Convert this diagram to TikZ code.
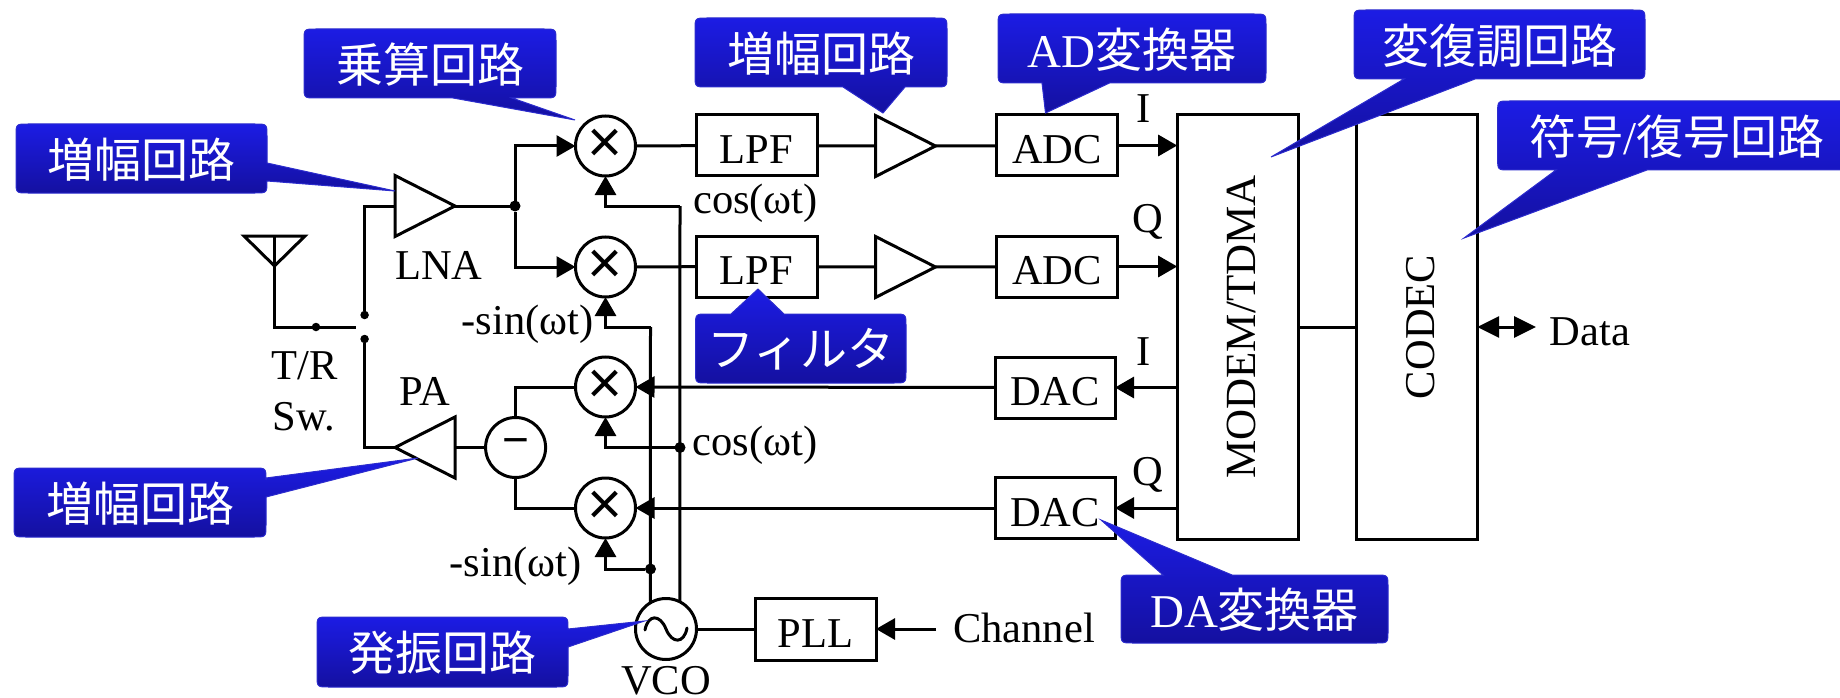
\documentclass[tikz,border=0pt]{standalone}
\usepackage{fontspec}
\setmainfont{Liberation Serif}
\newfontfamily\cjk{Noto Sans CJK JP}
\newfontfamily\symfont{Liberation Sans}
\usetikzlibrary{arrows.meta,shapes.geometric}
\definecolor{calltop}{RGB}{28,28,228}
\definecolor{callbot}{RGB}{20,16,160}
\definecolor{callline}{RGB}{44,44,205}
\newcommand\sz[1]{\fontsize{#1}{#1}\selectfont}
\newcommand\callout[9]{%
  \path[calloutbody] (#1+12,#2) #5 -- (#3-12,#2) .. controls (#3,#2) .. (#3,#2+12) #6
    -- (#3,#4-12) .. controls (#3,#4) .. (#3-12,#4) #7
    -- (#1+12,#4) .. controls (#1,#4) .. (#1,#4-12)
    -- (#1,#2+12) .. controls (#1,#2) .. (#1+12,#2) -- cycle;
  \node[calltext] (#8) at ({(#1+#3)/2},{(#2+#4)/2+1}) {#9};}
\begin{document}
\begin{tikzpicture}[x=1pt,y=-1pt,
  line width=3pt, line join=miter,
  block/.style={draw,rectangle,inner sep=0pt,outer sep=0pt,minimum width=121pt,minimum height=61pt,
    text height=36pt,text depth=0pt,font=\sz{42.5}},
  mixer/.style={draw,circle,inner sep=0pt,outer sep=0pt,minimum size=60pt,font=\symfont\sz{60}},
  amp/.style={draw,isosceles triangle,isosceles triangle stretches,inner sep=0pt,outer sep=0pt,
    minimum width=61pt,minimum height=60pt},
  jdot/.style={circle,fill=black,inner sep=0pt,outer sep=0pt,minimum size=11pt},
  swdot/.style={circle,fill=black,inner sep=0pt,outer sep=0pt,minimum size=8.5pt},
  lab/.style={anchor=base,inner sep=0pt,font=\sz{42.5}},
  arr/.style={-{Triangle[length=19pt,width=21pt]}},
  calloutbody/.style={top color=calltop,bottom color=callbot,draw=callline,line width=1pt},
  calltext/.style={text=white,inner sep=0pt,font=\cjk\sz{47}}
]
\useasboundingbox (0,0) rectangle (1840,698);

% antenna and switch
\coordinate (antL) at (244,236);
\coordinate (antR) at (305,236);
\coordinate (antA) at (274.5,266);
\coordinate (antB) at (274.5,327);
\coordinate (swfree) at (356,327);
\draw (antL) -- (antR) -- (antA) -- cycle;
\draw (274.5,236) -- (antA);
\node[swdot] (swj) at (316,327) {};
\draw (antA) -- (antB) -- (swfree);
\node[swdot] (sw1) at (364.6,315) {};
\node[swdot] (sw2) at (364.6,339) {};

% amplifiers
\node[amp,anchor=apex] (lna) at (455,206) {};
\node[amp,shape border rotate=180,anchor=apex] (pa) at (395,447.5) {};
\node[amp,anchor=apex] (a1) at (935.5,146) {};
\node[amp,anchor=apex] (a2) at (935.5,267) {};

% mixers
\node[mixer] (m1) at (605.5,146) {×};
\node[mixer] (m2) at (605.5,267) {×};
\node[mixer] (m3) at (605.5,387) {×};
\node[mixer] (m4) at (605.5,508) {×};
\node[mixer,font=\symfont\sz{46}] (sub) at (515.6,447.5) {−};

% blocks
\node[block] (lpf1) at (756.5,145.5) {LPF};
\node[block] (lpf2) at (756.5,266.5) {LPF};
\node[block] (adc1) at (1057,145.5) {ADC};
\node[block] (adc2) at (1057,266.5) {ADC};
\node[block,minimum width=120pt] (dac1) at (1055,387.5) {DAC};
\node[block,minimum width=120pt] (dac2) at (1055,508) {DAC};
\node[block,minimum width=121pt,minimum height=62pt] (pll) at (815.5,629) {PLL};
\node[block,rotate=90,minimum width=424pt,minimum height=121pt,font=\sz{43},text height=35pt] (modem) at (1237.7,327) {MODEM/TDMA};
\node[block,rotate=90,minimum width=424pt,minimum height=121pt,font=\sz{42.5},text height=35pt] (codec) at (1416.7,327) {CODEC};

% VCO
\node[draw,circle,inner sep=0pt,outer sep=0pt,minimum size=61pt] (vco) at (666,629) {};
\draw[line cap=round] (645,630) .. controls (648,614) and (660,614) .. (666,629)
   .. controls (672,644) and (684,644) .. (687,628);

% RX path
\draw (sw1) |- (lna.lower side);
\node[jdot] (rxj) at (515,206) {};
\draw (lna.apex) -- (rxj);
\draw[arr] (rxj) |- (m1.west);
\draw[arr] (rxj) |- (m2.west);
\draw (m1) -- (lpf1);
\draw (m2) -- (lpf2);
\draw (lpf1) -- (a1.lower side);
\draw (lpf2) -- (a2.lower side);
\draw (a1.apex) -- (adc1);
\draw (a2.apex) -- (adc2);
\draw[arr] (adc1.east) -- (adc1.east -| modem.north);
\draw[arr] (adc2.east) -- (adc2.east -| modem.north);

% TX path
\draw (sw2) |- (pa.apex);
\draw (pa.lower side) -- (sub);
\draw (sub.north) |- (m3.west);
\draw (sub.south) |- (m4.west);
\draw[arr] (dac1) -- (m3);
\draw[arr] (dac2) -- (m4);
\draw[arr] (dac1.east -| modem.north) -- (dac1.east);
\draw[arr] (dac2.east -| modem.north) -- (dac2.east);

% LO distribution
\coordinate (lorT) at (680,206);
\coordinate (lolT) at (650.5,327);
\node[jdot] (jcos) at (680,447.5) {};
\node[jdot] (jsin) at (650.5,569) {};
\draw[arr] (lorT) -| (m1.south);
\draw[arr] (lolT) -| (m2.south);
\draw[arr] (jcos) -| (m3.south);
\draw[arr] (jsin) -| (m4.south);
\draw (lorT) -- (vco.63);
\draw (lolT) -- (vco.121);

% PLL
\draw (vco) -- (pll);
\coordinate (chfree) at (936,629);
\draw[arr] (chfree) -- (pll);

% back end
\draw (modem.south) -- (codec.north);
\coordinate (datafree) at (1536,327);
\draw[{Triangle[length=22pt,width=21pt]}-{Triangle[length=22pt,width=21pt]}] (codec.south) -- (datafree);

% labels
\node[lab] (tlna) at (439,279) {LNA};
\node[lab] (tpa) at (425,405) {PA};
\node[lab] (ttr) at (305,379) {T/R};
\node[lab] (tsw) at (304,430) {Sw.};
\node[lab] (tcos1) at (755.5,213) {cos(ωt)};
\node[lab] (tcos2) at (755,455) {cos(ωt)};
\node[lab] (tsin1) at (527.5,334) {-sin(ωt)};
\node[lab] (tsin2) at (515.5,576) {-sin(ωt)};
\node[lab] (ti1) at (1144,123) {I};
\node[lab] (tq1) at (1148,232) {Q};
\node[lab] (ti2) at (1144,365) {I};
\node[lab] (tq2) at (1148,485) {Q};
\node[lab] (tvco) at (666,694) {VCO};
\node[lab] (tch) at (1024,642) {Channel};
\node[lab] (tdata) at (1590,345) {Data};

% callouts
\callout{304}{29}{556}{98}{}{}{-- (512,98) -- (575,120) -- (453,98)}{c1}{乗算回路}
\callout{16}{124}{267}{193}{}{-- (267,163) -- (395,191) -- (267,181)}{}{c2}{増幅回路}
\callout{14}{468}{266}{537}{}{-- (266,478) -- (418,458) -- (266,497)}{}{c3}{増幅回路}
\callout{317}{617}{568}{687}{}{-- (568,629) -- (644.5,621) -- (568,647)}{}{c4}{発振回路}
\callout{695}{18}{947}{87}{}{}{-- (905,87) -- (883,113) -- (843,87)}{c5}{増幅回路}
\callout{998}{14}{1266}{83}{}{}{-- (1109.5,83) -- (1045.5,113) -- (1042,83)}{c6}{{\rmfamily AD}変換器}
\callout{695.5}{314}{906}{383}{-- (731,314) -- (758,289) -- (784,314)}{}{}{c7}{フィルタ}
\callout{1121}{575}{1388}{643}{-- (1163,575) -- (1101,520) -- (1232,575)}{}{}{c8}{{\rmfamily DA}変換器}
\callout{1354}{10}{1645}{79}{}{}{-- (1475,79) -- (1271,157) -- (1404,79)}{c9}{変復調回路}
\callout{1497.6}{101}{1857}{170}{}{}{-- (1647,170) -- (1464,238) -- (1556,170)}{c10}{符号{\rmfamily /}復号回路}
\end{tikzpicture}
\end{document}
